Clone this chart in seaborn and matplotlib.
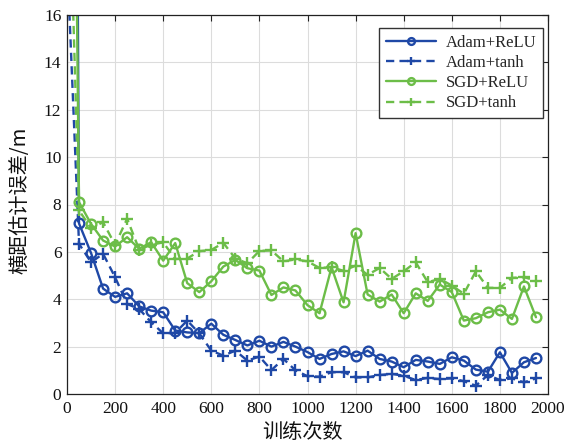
import numpy as np
import pandas as pd
import matplotlib
matplotlib.use("Agg")
import matplotlib.pyplot as plt
import seaborn as sns

# ---------------- data ----------------
iterations = [0, 50, 100, 150, 200, 250, 300, 350, 400, 450,
              500, 550, 600, 650, 700, 750, 800, 850, 900, 950,
              1000, 1050, 1100, 1150, 1200, 1250, 1300, 1350, 1400, 1450,
              1500, 1550, 1600, 1650, 1700, 1750, 1800, 1850, 1900, 1950]

adam_relu = [100, 7.2, 5.95, 4.45, 4.1, 4.25, 3.7, 3.52, 3.45, 2.68,
             2.6, 2.57, 2.97, 2.5, 2.28, 2.05, 2.25, 2.0, 2.2, 2.0,
             1.77, 1.48, 1.69, 1.8, 1.6, 1.83, 1.48, 1.37, 1.13, 1.44,
             1.37, 1.27, 1.55, 1.41, 1.03, 0.94, 1.76, 0.89, 1.34, 1.52]

adam_tanh = [18.5, 6.34, 5.56, 5.92, 4.93, 3.8, 3.59, 3.03, 2.56, 2.58,
             3.1, 2.56, 1.83, 1.62, 1.83, 1.41, 1.58, 1.01, 1.48, 1.0,
             0.75, 0.73, 0.92, 0.92, 0.7, 0.7, 0.8, 0.85, 0.77, 0.59,
             0.68, 0.63, 0.66, 0.54, 0.35, 0.8, 0.59, 0.66, 0.49, 0.66]

sgd_relu = [55, 8.1, 7.18, 6.48, 6.23, 6.62, 6.13, 6.41, 5.63, 6.37,
            4.68, 4.3, 4.76, 5.38, 5.66, 5.31, 5.21, 4.18, 4.5, 4.37,
            3.75, 3.41, 5.35, 3.87, 6.79, 4.2, 3.9, 4.2, 3.41, 4.25,
            3.93, 4.62, 4.3, 3.1, 3.2, 3.45, 3.56, 3.17, 4.54, 3.24]

sgd_tanh = [25, 7.75, 7.0, 7.25, 6.3, 7.4, 6.1, 6.3, 6.4, 5.7,
            5.72, 6.03, 6.08, 6.38, 5.72, 5.52, 6.04, 6.06, 5.6, 5.68,
            5.6, 5.32, 5.35, 5.2, 5.42, 5.03, 5.32, 4.86, 5.18, 5.56,
            4.72, 4.86, 4.58, 4.23, 5.18, 4.48, 4.48, 4.9, 4.93, 4.79]

series_names = ["Adam+ReLU", "Adam+tanh", "SGD+ReLU", "SGD+tanh"]
x_ticks = [0, 200, 400, 600, 800, 1000, 1200, 1400, 1600, 1800, 2000]
y_ticks = [0, 2, 4, 6, 8, 10, 12, 14, 16]
x_label = "训练次数"
y_label = "横距估计误差/m"

# ---------------- style ----------------
sns.set_theme(style="whitegrid")
plt.rcParams["font.family"] = ["Liberation Serif", "DejaVu Serif"]
plt.rcParams["axes.edgecolor"] = "#222222"
plt.rcParams["grid.color"] = "#dcdcdc"
plt.rcParams["grid.linewidth"] = 0.8

blue = "#1f48a6"
green = "#6cbd48"
styles = {
    "Adam+ReLU": dict(color=blue, marker="o", ls="-"),
    "Adam+tanh": dict(color=blue, marker="+", ls=(0, (3.5, 2.2))),
    "SGD+ReLU": dict(color=green, marker="o", ls="-"),
    "SGD+tanh": dict(color=green, marker="+", ls=(0, (3.5, 2.2))),
}
values = {"Adam+ReLU": adam_relu, "Adam+tanh": adam_tanh,
          "SGD+ReLU": sgd_relu, "SGD+tanh": sgd_tanh}

fig = plt.figure(figsize=(5.77, 4.46), dpi=100)
ax = fig.add_axes([67 / 577, 1 - 394 / 446, 481 / 577, 379 / 446])

for name in series_names:
    st = styles[name]
    df = pd.DataFrame({"x": iterations, "y": values[name]})
    ms = 7 if st["marker"] == "o" else 9
    sns.lineplot(data=df, x="x", y="y", ax=ax, color=st["color"],
                 marker=st["marker"], markersize=ms, markerfacecolor="none",
                 markeredgecolor=st["color"], markeredgewidth=1.7,
                 linewidth=1.7, linestyle=st["ls"], label=name,
                 estimator=None, sort=False)

ax.set_xlim(0, 2000)
ax.set_ylim(0, 16)
ax.set_xticks(x_ticks)
ax.set_yticks(y_ticks)
ax.tick_params(axis="both", which="both", direction="in", length=4,
               width=0.8, top=True, right=True, labelsize=12.5,
               colors="#222222", labelcolor="#111111")
ax.tick_params(axis="x", pad=5)
ax.tick_params(axis="y", pad=4)
ax.grid(True, color="#dcdcdc", linewidth=0.8)
for sp in ax.spines.values():
    sp.set_color("#222222")
    sp.set_linewidth(0.9)

ax.set_xlabel(x_label, fontfamily=["Noto Sans CJK SC", "DejaVu Sans"],
              fontsize=14.5, color="#111111")
ax.set_ylabel(y_label, fontfamily=["Noto Sans CJK SC", "DejaVu Sans"],
              fontsize=14.5, color="#111111")
ax.xaxis.set_label_coords(0.49, -0.075)
ax.yaxis.set_label_coords(-0.075, 0.512)

leg = ax.legend(loc="upper right", bbox_to_anchor=(0.99, 0.965),
                borderaxespad=0, frameon=True, fancybox=False,
                edgecolor="#333333", fontsize=12, handlelength=3.0,
                labelspacing=0.25, borderpad=0.4, handletextpad=0.6,
                markerscale=0.7)
leg.get_frame().set_linewidth(1.0)
leg.get_frame().set_facecolor("white")
leg.get_frame().set_alpha(1.0)

fig.savefig("out.png", dpi=100)
